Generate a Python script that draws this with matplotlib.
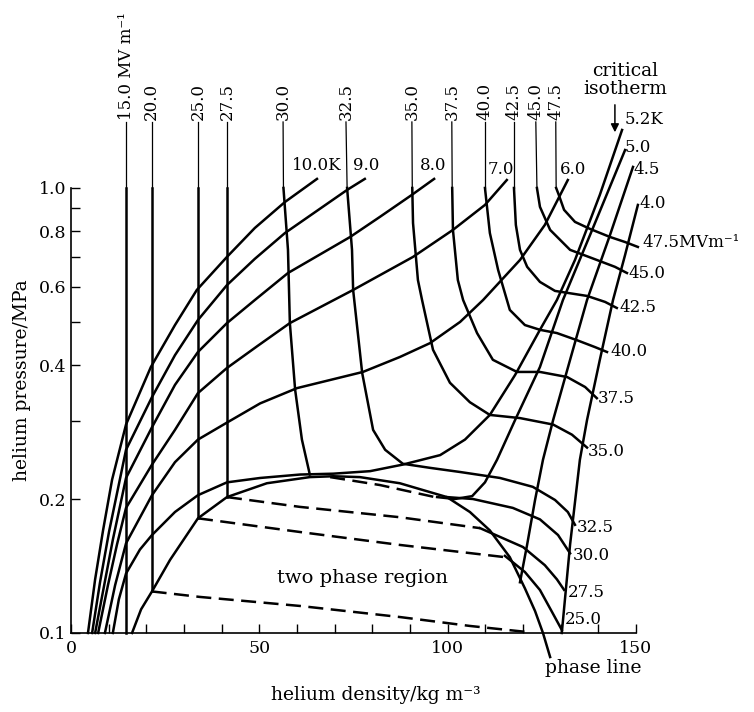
import numpy as np
import matplotlib
matplotlib.use("Agg")
import matplotlib.pyplot as plt
from matplotlib.ticker import FixedLocator, NullFormatter

plt.rcParams["font.family"] = ["DejaVu Serif"]

# isotherms (gas side, critical isotherm and liquid side)
temp_labels = ["10.0K", "9.0", "8.0", "7.0", "6.0", "5.2K", "5.0", "4.5", "4.0"]
temp_rho = [
    [4.5, 6.4, 8.5, 10.9, 14.6, 21.2, 27.6, 33.4, 41.4, 48.8, 56.8, 65.3],
    [5.6, 7.7, 10.1, 14.6, 21.5, 27.6, 33.7, 41.4, 48.8, 56.8, 73.3, 78.0],
    [6.4, 8.8, 11.1, 14.6, 21.5, 27.6, 33.7, 41.4, 48.8, 57.6, 74.1, 82.0, 90.5, 96.4],
    [7.2, 9.8, 12.2, 14.6, 21.5, 27.6, 33.7, 41.4, 49.6, 58.1, 74.9, 90.8, 101.4, 109.9, 115.7],
    [9.0, 11.7, 14.6, 21.5, 27.6, 33.7, 41.4, 50.2, 60.0, 77.5, 87.3, 95.3, 103.3, 109.4, 119.2, 125.8, 131.9],
    [11.1, 12.7, 14.6, 18.3, 21.5, 27.6, 33.7, 41.4, 50.2, 60.8, 69.6, 79.4, 88.1, 98.0, 104.6, 111.2, 117.9,
     124.5, 129.0, 133.8, 140.4, 146.3],
    [97.2, 101.9, 106.5, 109.9, 113.1, 117.9, 124.5, 130.6, 137.8, 147.1],
    [119.2, 121.1, 123.2, 125.3, 128.0, 132.5, 137.0, 143.1, 149.2],
    [130.3, 132.5, 135.1, 137.0, 140.4, 143.9, 147.1, 150.5],
]
temp_p = [
    [0.100, 0.132, 0.170, 0.221, 0.294, 0.396, 0.492, 0.590, 0.700, 0.813, 0.930, 1.048],
    [0.100, 0.130, 0.169, 0.258, 0.339, 0.421, 0.505, 0.605, 0.693, 0.792, 0.990, 1.048],
    [0.100, 0.128, 0.162, 0.223, 0.290, 0.361, 0.428, 0.497, 0.560, 0.644, 0.776, 0.861, 0.965, 1.048],
    [0.100, 0.128, 0.158, 0.191, 0.239, 0.286, 0.346, 0.394, 0.442, 0.497, 0.590, 0.700, 0.805, 0.916, 1.042],
    [0.100, 0.128, 0.159, 0.204, 0.242, 0.272, 0.297, 0.328, 0.355, 0.386, 0.417, 0.448, 0.500, 0.560, 0.689,
     0.826, 1.042],
    [0.100, 0.119, 0.136, 0.154, 0.166, 0.187, 0.204, 0.218, 0.223, 0.227, 0.228, 0.231, 0.239, 0.251, 0.272,
     0.309, 0.380, 0.480, 0.560, 0.689, 0.965, 1.350],
    [0.202, 0.200, 0.203, 0.218, 0.245, 0.301, 0.396, 0.560, 0.784, 1.217],
    [0.130, 0.158, 0.199, 0.245, 0.301, 0.411, 0.560, 0.784, 1.115],
    [0.100, 0.158, 0.245, 0.301, 0.411, 0.560, 0.707, 0.916],
]

# saturation (phase) line
phase_rho = [16.2, 18.6, 21.5, 26.3, 33.7, 41.4, 52.0, 63.4, 69.6, 76.7, 87.3, 99.8, 105.9, 111.2, 116.5,
             120.5, 123.2, 125.3, 127.2]
phase_p = [0.100, 0.113, 0.124, 0.146, 0.181, 0.202, 0.217, 0.224, 0.225, 0.224, 0.217, 0.202, 0.187, 0.170,
           0.148, 0.126, 0.112, 0.100, 0.0883]

# lines of constant breakdown field (MV/m), drawn from the top
field_labels = ["15.0 MV m⁻¹", "20.0", "25.0", "27.5", "30.0", "32.5", "35.0", "37.5", "40.0", "42.5", "45.0", "47.5"]
field_rho = [
    [14.6, 14.6, 14.6],
    [21.4, 21.4, 21.4],
    [33.7, 33.7, 33.7],
    [41.4, 41.4, 41.4],
    [56.3, 56.4, 57.6, 58.1, 59.5, 61.3, 63.4],
    [73.0, 73.3, 74.6, 74.9, 77.3, 80.2, 83.4, 88.1, 95.3, 103.3, 113.9, 122.6, 128.5, 131.9, 133.8],
    [90.5, 90.6, 90.8, 92.1, 93.2, 96.1, 100.6, 105.9, 111.2, 119.2, 128.0, 133.0, 137.0],
    [101.1, 101.2, 101.4, 102.7, 104.1, 107.8, 112.0, 118.4, 124.5, 131.7, 136.5, 139.6],
    [109.9, 109.9, 111.2, 113.4, 116.5, 120.5, 124.5, 129.0, 134.3, 139.1, 142.3],
    [117.6, 117.6, 118.1, 119.2, 121.1, 124.5, 128.5, 137.0, 141.8, 144.9],
    [123.4, 123.7, 124.5, 127.2, 132.5, 139.6, 144.4, 147.6],
    [128.7, 128.8, 129.5, 130.9, 133.8, 137.8, 143.1, 147.1, 150.5],
]
field_p = [
    [1.407, 1.0, 0.100],
    [1.407, 1.0, 0.124],
    [1.407, 1.0, 0.181],
    [1.407, 1.0, 0.202],
    [1.407, 1.0, 0.726, 0.497, 0.352, 0.272, 0.227],
    [1.407, 1.0, 0.726, 0.590, 0.384, 0.286, 0.258, 0.240, 0.235, 0.230, 0.223, 0.213, 0.199, 0.187, 0.175],
    [1.407, 1.0, 0.834, 0.621, 0.560, 0.433, 0.365, 0.330, 0.309, 0.304, 0.294, 0.279, 0.261],
    [1.407, 1.0, 0.805, 0.621, 0.560, 0.472, 0.411, 0.386, 0.386, 0.376, 0.357, 0.337],
    [1.407, 1.0, 0.792, 0.654, 0.532, 0.492, 0.480, 0.472, 0.455, 0.439, 0.428],
    [1.407, 1.0, 0.826, 0.726, 0.665, 0.615, 0.587, 0.572, 0.5545, 0.5375],
    [1.407, 1.0, 0.907, 0.805, 0.726, 0.689, 0.665, 0.644],
    [1.407, 1.0, 0.965, 0.893, 0.839, 0.809, 0.776, 0.756, 0.737],
]

# tie lines through the two phase region (20.0, 25.0, 27.5, 30.0)
tie_rho = [
    [21.4, 34.2, 60.8, 87.3, 105.9, 121.1],
    [33.7, 60.8, 87.3, 114.7],
    [41.4, 60.8, 87.3, 108.6],
    [68.8, 82.0, 96.6],
]
tie_p = [
    [0.124, 0.1205, 0.1150, 0.1086, 0.1037, 0.1005],
    [0.181, 0.1686, 0.1577, 0.1482],
    [0.202, 0.192, 0.182, 0.172],
    [0.224, 0.215, 0.202],
]

# liquid side of 25.0, 27.5, 30.0
liq_labels = ["25.0", "27.5", "30.0"]
liq_rho = [
    [115.2, 120.5, 124.5, 127.7, 130.3],
    [108.6, 120.0, 125.8, 129.0, 130.9],
    [99.8, 106.7, 117.3, 124.5, 129.3, 132.5],
]
liq_p = [
    [0.149, 0.1371, 0.1249, 0.1115, 0.1016],
    [0.172, 0.156, 0.142, 0.132, 0.125],
    [0.202, 0.200, 0.191, 0.180, 0.166, 0.151],
]

right_labels = ["47.5MVm⁻¹", "45.0", "42.5", "40.0", "37.5", "35.0", "32.5", "30.0", "27.5", "25.0"]

fig = plt.figure(figsize=(7.54, 7.12), dpi=100)
ax = fig.add_axes([0.0942, 0.111, 0.7493, 0.625])
ax.set_yscale("log")
ax.set_xlim(0, 150)
ax.set_ylim(0.1, 1.0)

lw = 1.8
line_kw = dict(color="k", lw=lw, clip_on=False, solid_joinstyle="round")

for rho, p in zip(temp_rho, temp_p):
    ax.plot(rho, p, **line_kw)

ax.plot(phase_rho, phase_p, **line_kw)

for rho, p in zip(field_rho, field_p):
    rho = np.array(rho)
    p = np.array(p)
    ax.plot(rho[p >= 1.0], p[p >= 1.0], color="k", lw=0.9, clip_on=False)
    ax.plot(rho[p <= 1.0], p[p <= 1.0], **line_kw)

for rho, p in zip(tie_rho, tie_p):
    ax.plot(rho, p, color="k", lw=lw, ls=(0, (6, 3)), clip_on=False)

for rho, p in zip(liq_rho, liq_p):
    ax.plot(rho, p, **line_kw)

# axes styling
for s in ["top", "right"]:
    ax.spines[s].set_visible(False)
ax.spines["left"].set_linewidth(1.2)
ax.spines["bottom"].set_linewidth(1.2)
ax.yaxis.set_major_locator(FixedLocator([0.1, 0.2, 0.4, 0.6, 0.8, 1.0]))
ax.yaxis.set_minor_locator(FixedLocator([0.3, 0.5, 0.7, 0.9]))
ax.yaxis.set_major_formatter(plt.FixedFormatter(["0.1", "0.2", "0.4", "0.6", "0.8", "1.0"]))
ax.yaxis.set_minor_formatter(NullFormatter())
ax.xaxis.set_major_locator(FixedLocator([0, 50, 100, 150]))
ax.xaxis.set_minor_locator(FixedLocator([10, 20, 30, 40, 60, 70, 80, 90, 110, 120, 130, 140]))
ax.tick_params(which="both", direction="in", length=6.5, width=1.0, labelsize=12.5)
ax.tick_params(axis="y", pad=3.5)
ax.tick_params(axis="x", pad=5)

fig.text(0.029, 0.466, "helium pressure/MPa", rotation=90, ha="center", va="center", fontsize=13.5)
fig.text(0.4987, 0.024, "helium density/kg m⁻³", ha="center", va="center", fontsize=13.5)

# labels of the isofield lines at the top
for lab, rho in zip(field_labels, field_rho):
    ax.text(rho[0], 1.425, lab, rotation=90, ha="center", va="bottom", fontsize=12)

# isotherm labels
temp_pos = [(58.7, 1.126), (74.9, 1.126), (92.6, 1.126), (110.7, 1.098), (129.8, 1.098),
            (147.1, 1.422), (147.1, 1.230), (149.2, 1.098), (151.0, 0.925)]
for lab, (x, y) in zip(temp_labels, temp_pos):
    ax.text(x, y, lab, ha="left", va="center", fontsize=12)

# isofield labels on the right
right_pos = [(151.6, 0.756), (147.9, 0.644), (145.7, 0.540), (143.1, 0.428), (139.9, 0.336),
             (137.2, 0.256), (134.3, 0.173), (133.3, 0.149), (131.9, 0.123), (131.1, 0.107)]
for lab, (x, y) in zip(right_labels, right_pos):
    ax.text(x, y, lab, ha="left", va="center", fontsize=12)

ax.text(147.1, 1.75, "critical\nisotherm", ha="center", va="center", fontsize=13.5, linespacing=1.0)
ax.annotate("", xy=(144.4, 1.315), xytext=(144.4, 1.56),
            arrowprops=dict(arrowstyle="-|>", color="k", lw=1.1, mutation_scale=12),
            annotation_clip=False)
ax.text(77.5, 0.133, "two phase region", ha="center", va="center", fontsize=14)
ax.text(138.6, 0.0834, "phase line", ha="center", va="center", fontsize=13.5)

fig.savefig("out.png", dpi=100, facecolor="white")
